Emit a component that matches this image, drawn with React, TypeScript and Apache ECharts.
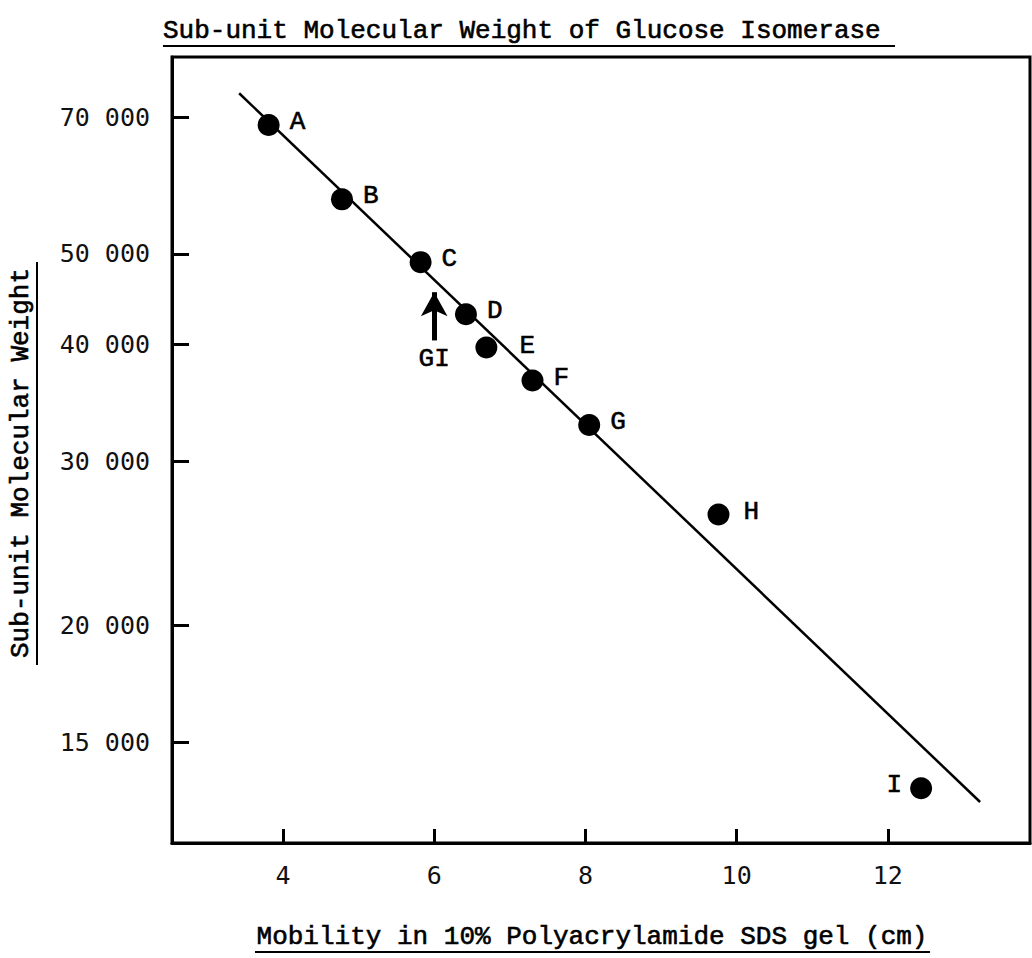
import React, { useEffect, useRef } from "react";
import * as echarts from "echarts";

// ---- data ----
const pointLabels = ["A", "B", "C", "D", "E", "F", "G", "H", "I"];
const mobility = [3.81, 4.78, 5.82, 6.42, 6.69, 7.3, 8.05, 9.76, 12.44];
const molWeight = [68700, 57200, 49000, 43100, 39700, 36600, 32800, 26300, 13400];

const fitMobility = [3.42, 13.22];
const fitWeight = [74300, 12950];

const giMobility = 6.0;
const giArrowWeights = [40400, 45500];
const giLabel = "GI";

const yTickValues = [70000, 50000, 40000, 30000, 20000, 15000];
const xTickValues = [4, 6, 8, 10, 12];

const titleText = "Sub-unit Molecular Weight of Glucose Isomerase";
const xTitle = "Mobility in 10% Polyacrylamide SDS gel (cm)";
const yTitle = "Sub-unit Molecular Weight";

const TYPE_FONT = "'Liberation Mono', 'Courier New', monospace";
const NUM_FONT = "'DejaVu Sans Mono', monospace";

const lg = (v: number) => Math.log10(v);
const fmtWeight = (v: number) => {
  const r = Math.round(Math.pow(10, v) / 1000);
  return r + " 000";
};

export default function App() {
  const ref = useRef<HTMLDivElement>(null);
  useEffect(() => {
    if (!ref.current) return;
    const chart = echarts.init(ref.current, undefined, { renderer: "svg" });

    const scatterData = mobility.map((x, i) => {
      const item: any = { name: pointLabels[i], value: [x, lg(molWeight[i])] };
      if (pointLabels[i] === "I") item.label = { position: "left", distance: 8 };
      if (pointLabels[i] === "E") item.label = { distance: 22, offset: [0, -2] };
      if (pointLabels[i] === "H") item.label = { distance: 14 };
      return item;
    });

    const typeText = (text: string) => ({
      text,
      font: `26px ${TYPE_FONT}`,
      fill: "#000",
      stroke: "#000",
      lineWidth: 0.6,
      verticalAlign: "middle",
    });

    const option: any = {
      animation: false,
      backgroundColor: "#ffffff",
      grid: {
        left: 172,
        right: 2,
        top: 57,
        bottom: 115,
        show: true,
        borderColor: "#000",
        borderWidth: 3,
      },
      xAxis: {
        type: "value",
        min: 2.532,
        max: 13.88,
        splitLine: { show: false },
        axisLine: { show: true, lineStyle: { color: "#000", width: 3 } },
        axisTick: {
          show: true,
          inside: true,
          length: 14,
          lineStyle: { color: "#000", width: 3 },
          customValues: xTickValues,
        },
        axisLabel: {
          customValues: xTickValues,
          margin: 20,
          color: "#111",
          fontFamily: NUM_FONT,
          fontSize: 25,
        },
      },
      yAxis: {
        type: "value",
        min: 4.0684,
        max: 4.9098,
        splitLine: { show: false },
        axisLine: { show: true, lineStyle: { color: "#000", width: 3 } },
        axisTick: {
          show: true,
          inside: true,
          length: 17,
          lineStyle: { color: "#000", width: 3 },
          customValues: yTickValues.map(lg),
        },
        axisLabel: {
          customValues: yTickValues.map(lg),
          margin: 22,
          color: "#111",
          fontFamily: NUM_FONT,
          fontSize: 25,
          formatter: (v: number) => fmtWeight(v),
        },
      },
      series: [
        {
          type: "line",
          data: fitMobility.map((x, i) => [x, lg(fitWeight[i])]),
          symbol: "none",
          lineStyle: { color: "#000", width: 2.5 },
          silent: true,
          z: 2,
        },
        {
          type: "scatter",
          data: scatterData,
          symbol: "circle",
          symbolSize: 22,
          itemStyle: { color: "#000", opacity: 1 },
          z: 3,
          label: {
            show: true,
            position: "right",
            distance: 10,
            formatter: "{b}",
            color: "#000",
            fontFamily: TYPE_FONT,
            fontSize: 26,
            fontWeight: "normal",
            textBorderColor: "#000",
            textBorderWidth: 0.6,
            offset: [0, -3],
          },
          markLine: {
            silent: true,
            animation: false,
            symbol: ["none", "arrow"],
            symbolSize: [20, 24],
            lineStyle: { color: "#000", width: 5, type: "solid", opacity: 1 },
            label: {
              show: true,
              position: "start",
              formatter: giLabel,
              distance: 6,
              color: "#000",
              fontFamily: TYPE_FONT,
              fontSize: 26,
              fontWeight: "normal",
              textBorderColor: "#000",
              textBorderWidth: 0.6,
            },
            data: [
              [
                { coord: [giMobility, lg(giArrowWeights[0])], symbol: "none" },
                { coord: [giMobility, lg(giArrowWeights[1])], symbol: "arrow" },
              ],
            ],
          },
        },
      ],
      graphic: [
        {
          type: "text",
          x: 163,
          y: 31,
          style: { ...typeText(titleText), align: "left" },
        },
        {
          type: "line",
          shape: { x1: 163, y1: 46, x2: 895, y2: 46 },
          style: { stroke: "#000", lineWidth: 2 },
        },
        {
          type: "text",
          x: 592,
          y: 937,
          style: { ...typeText(xTitle), align: "center" },
        },
        {
          type: "line",
          shape: { x1: 255, y1: 952, x2: 930, y2: 952 },
          style: { stroke: "#000", lineWidth: 2 },
        },
        {
          type: "text",
          x: 21,
          y: 463,
          rotation: Math.PI / 2,
          style: { ...typeText(yTitle), align: "center" },
        },
        {
          type: "line",
          shape: { x1: 37, y1: 262, x2: 37, y2: 665 },
          style: { stroke: "#000", lineWidth: 2 },
        },
      ],
    };

    chart.setOption(option);
    return () => chart.dispose();
  }, []);

  return (
    <div
      ref={ref}
      style={{ position: "absolute", left: 0, top: 0, width: 1032, height: 958, background: "#fff" }}
    />
  );
}
